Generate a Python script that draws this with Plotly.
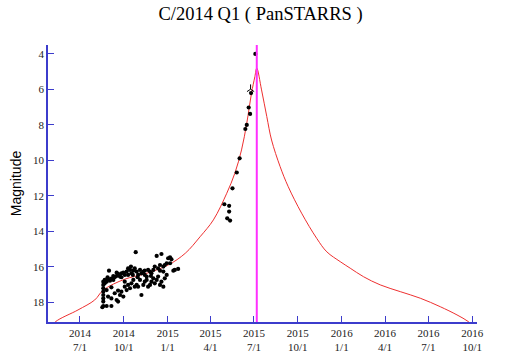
import plotly.graph_objects as go

# Theoretical magnitude curve
curve_dates = ["2014-04-25", "2014-05-10", "2014-06-27", "2014-08-01", "2014-08-19",
               "2014-10-03", "2014-11-14", "2015-01-02", "2015-02-07", "2015-03-10",
               "2015-04-07", "2015-05-05", "2015-05-22", "2015-06-05", "2015-06-16",
               "2015-06-26", "2015-07-03", "2015-07-07", "2015-07-17", "2015-07-28",
               "2015-08-07", "2015-08-25", "2015-09-11", "2015-10-09", "2015-11-10",
               "2015-12-01", "2015-12-29", "2016-01-19", "2016-02-16", "2016-03-22",
               "2016-05-03", "2016-06-14", "2016-07-26", "2016-08-30", "2016-09-23",
               "2016-10-11"]
curve_mags = [19.6, 19.1, 18.42, 17.86, 17.30,
              16.69, 16.39, 15.89, 15.23, 14.3,
              13.35, 11.85, 10.72, 9.41, 7.90,
              6.21, 5.28, 4.8, 6.03, 7.53,
              8.85, 10.35, 11.48, 12.97, 14.40,
              15.15, 15.70, 16.07, 16.55, 17.01,
              17.39, 17.76, 18.24, 18.70, 19.08,
              19.5]

# Observations
obs_dates = [
    "2014-08-19", "2014-08-19", "2014-08-19", "2014-08-19", "2014-08-19", "2014-08-19", "2014-08-19", "2014-08-19",
    "2014-08-17", "2014-08-26", "2014-09-05", "2014-08-31", "2014-08-22", "2014-08-26", "2014-08-29", "2014-09-02",
    "2014-09-05", "2014-09-09", "2014-09-12", "2014-09-16", "2014-09-19", "2014-09-23", "2014-09-26", "2014-09-30",
    "2014-10-03", "2014-10-07", "2014-10-10", "2014-10-14", "2014-10-17", "2014-10-21", "2014-10-24", "2014-10-26",
    "2014-10-28", "2014-10-31", "2014-11-04", "2014-11-07", "2014-11-11", "2014-11-14", "2014-11-18", "2014-11-21",
    "2014-11-25", "2014-11-28", "2014-12-02", "2014-12-05", "2014-12-09", "2014-12-12", "2014-12-16", "2014-12-19",
    "2014-12-23", "2014-12-26", "2014-12-30", "2015-01-02", "2015-01-06", "2015-01-09", "2015-01-13", "2015-01-16",
    "2015-01-23",
    "2014-08-29", "2014-09-05", "2014-09-12", "2014-09-16", "2014-09-19", "2014-09-23", "2014-09-26", "2014-09-30",
    "2014-10-03", "2014-10-07", "2014-10-10", "2014-10-14", "2014-10-17", "2014-10-21", "2014-10-24", "2014-10-28",
    "2014-10-31", "2014-11-04", "2014-11-07", "2014-11-11", "2014-11-14", "2014-11-18", "2014-11-21", "2014-11-25",
    "2014-11-28", "2014-12-02", "2014-12-05", "2014-12-09", "2014-12-12", "2014-12-16", "2014-12-19", "2014-12-23",
    "2014-12-26", "2014-12-30", "2014-09-05", "2014-08-26", "2014-09-19", "2014-10-03",
    "2014-08-22", "2014-08-28", "2014-09-09", "2014-09-16", "2014-09-26", "2014-10-10", "2014-10-16", "2014-10-20",
    "2014-10-30", "2014-11-14", "2014-11-27", "2014-12-16", "2014-12-23", "2015-01-06",
    "2015-04-30", "2015-05-10", "2015-05-10", "2015-05-06", "2015-05-12", "2015-05-17", "2015-05-26", "2015-06-01",
    "2015-06-13", "2015-06-16", "2015-06-20", "2015-06-23", "2015-06-25", "2015-07-04",
]
obs_mags = [
    16.83, 17.01, 17.20, 17.39, 17.58, 17.77, 17.95, 18.20,
    18.27, 18.20, 18.20, 16.21, 16.73, 16.83, 16.69, 16.77,
    16.66, 16.73, 16.58, 16.51, 16.39, 16.54, 16.36, 16.32,
    16.45, 16.26, 16.08, 16.17, 16.36, 16.21, 16.08, 15.17,
    16.26, 16.45, 16.17, 16.36, 16.26, 16.45, 16.54, 16.17,
    16.26, 16.36, 16.17, 15.98, 15.38, 16.08, 15.89, 15.27,
    15.98, 15.89, 15.79, 15.51, 15.46, 15.57, 16.21, 16.17,
    16.11,
    17.67, 17.77, 17.48, 17.86, 17.95, 17.58, 17.39, 17.67,
    17.11, 17.30, 17.01, 17.20, 16.92, 16.73, 17.11, 17.01,
    17.11, 16.73, 17.58, 17.01, 16.83, 16.73, 17.11, 17.01,
    16.83, 16.64, 16.92, 16.73, 16.54, 17.01, 16.83, 17.11,
    16.64, 16.45, 17.15, 17.30, 17.33, 16.83,
    16.92, 16.58, 16.51, 16.32, 16.58, 16.45, 15.98, 16.45,
    16.58, 16.21, 16.51, 16.21, 16.26, 15.79,
    12.47, 12.56, 12.88, 13.26, 13.39, 11.57, 10.68, 9.88,
    8.23, 8.00, 7.02, 7.38, 6.21, 4.00,
]
# Special marker (upper-limit style tick)
mark_dates = ["2015-06-24"]
mark_mags = [5.99]

perihelion = "2015-07-07"

tick_vals = ["2014-07-01", "2014-10-01", "2015-01-01", "2015-04-01", "2015-07-01",
             "2015-10-01", "2016-01-01", "2016-04-01", "2016-07-01", "2016-10-01"]
tick_text = ["2014<br>7/1", "2014<br>10/1", "2015<br>1/1", "2015<br>4/1", "2015<br>7/1",
             "2015<br>10/1", "2016<br>1/1", "2016<br>4/1", "2016<br>7/1", "2016<br>10/1"]
y_ticks = [4, 6, 8, 10, 12, 14, 16, 18]

fig = go.Figure()
fig.add_trace(go.Scatter(x=curve_dates, y=curve_mags, mode="lines",
                         line=dict(color="#ee3030", width=1, shape="spline", smoothing=1.0),
                         hoverinfo="skip"))
fig.add_trace(go.Scatter(x=obs_dates, y=obs_mags, mode="markers",
                         marker=dict(color="black", size=4.2)))
fig.add_trace(go.Scatter(x=mark_dates, y=mark_mags, mode="markers",
                         marker=dict(symbol="y-up-open", size=6, color="black",
                                     line=dict(color="black", width=1))))
fig.add_shape(type="line", xref="x", yref="paper", x0=perihelion, x1=perihelion,
              y0=0, y1=1, line=dict(color="#ff30ff", width=2))

axis_blue = "#3c3ccc"
fig.update_layout(
    width=516, height=360,
    margin=dict(l=48, r=39, t=45, b=38, autoexpand=False),
    plot_bgcolor="white", paper_bgcolor="white",
    showlegend=False,
    title=dict(text="C/2014 Q1 ( PanSTARRS )", x=0.505, xanchor="center",
               y=0.963, yanchor="middle", yref="container",
               font=dict(family="Liberation Serif", size=18.5, color="black")),
    xaxis=dict(range=["2014-04-25", "2016-10-11"], tickvals=tick_vals, ticktext=tick_text,
               ticks="inside", ticklen=6, tickcolor=axis_blue, tickwidth=1,
               showline=True, linecolor=axis_blue, linewidth=1.5, showgrid=False,
               zeroline=False, automargin=False,
               tickfont=dict(family="Liberation Serif", size=11, color="#222222")),
    yaxis=dict(range=[19.1, 3.5], tickvals=y_ticks,
               ticks="inside", ticklen=6, tickcolor=axis_blue, tickwidth=1,
               showline=True, linecolor=axis_blue, linewidth=1.5, showgrid=False,
               zeroline=False, automargin=False,
               tickfont=dict(family="Liberation Serif", size=11, color="#222222"),
               title=dict(text="Magnitude", standoff=8,
                          font=dict(family="Liberation Sans", size=14, color="black"))),
)

fig.write_html("out.html", config={"displayModeBar": False},
               post_script="document.body.style.margin='0px';")
